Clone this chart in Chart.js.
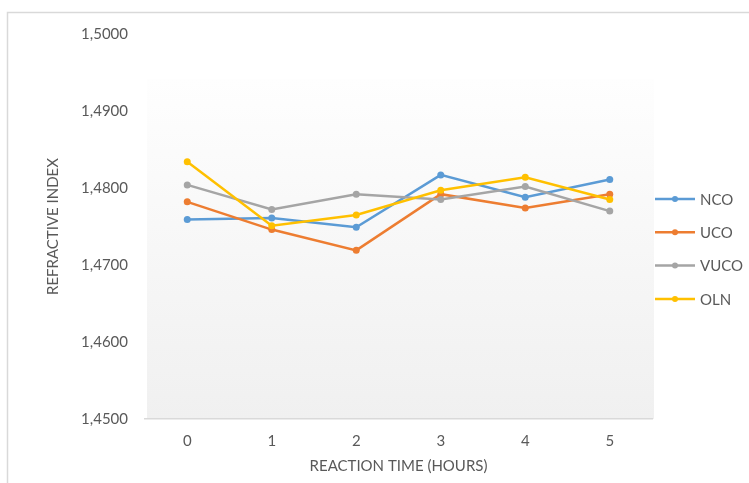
<!DOCTYPE html>
<html>
<head>
<meta charset="utf-8">
<script src="https://cdn.jsdelivr.net/npm/chart.js@4/dist/chart.umd.min.js"></script>
<style>
  html, body { margin: 0; padding: 0; background: #ffffff; }
  #wrap { position: relative; width: 749px; height: 483px; }
</style>
</head>
<body>
<div id="wrap"><canvas id="chart" width="749" height="483"></canvas></div>
<script>
// Reaction time (hours) on the x axis
const hours = ['0', '1', '2', '3', '4', '5'];

// Refractive index per oil sample
const nco  = [1.4759, 1.4761, 1.4749, 1.4817, 1.4788, 1.4811];
const uco  = [1.4782, 1.4746, 1.4719, 1.4792, 1.4774, 1.4792];
const vuco = [1.4804, 1.4772, 1.4792, 1.4785, 1.4802, 1.4770];
const oln  = [1.4834, 1.4751, 1.4765, 1.4797, 1.4814, 1.4785];

const seriesNames = ['NCO', 'UCO', 'VUCO', 'OLN'];
const seriesColors = ['#5B9BD5', '#ED7D31', '#A5A5A5', '#FFC000'];
const seriesValues = [nco, uco, vuco, oln];

const yMin = 1.45, yMax = 1.50, yStep = 0.01;

const FONT = 'Lato, "Open Sans", sans-serif';
const TEXT = '#595959';

// Card frame and the shaded plot panel
const framePlugin = {
  id: 'frame',
  beforeDraw(chart) {
    const ctx = chart.ctx;
    const a = chart.chartArea;
    ctx.save();
    ctx.strokeStyle = '#d9d9d9';
    ctx.lineWidth = 1.5;
    ctx.beginPath();
    ctx.moveTo(7.5, chart.height + 2);
    ctx.lineTo(7.5, 12.5);
    ctx.lineTo(chart.width + 2, 12.5);
    ctx.stroke();
    const top = a.top + 45;
    const g = ctx.createLinearGradient(0, top, 0, a.bottom);
    g.addColorStop(0, '#fefefe');
    g.addColorStop(1, '#f0f0f0');
    ctx.fillStyle = g;
    ctx.fillRect(a.left + 2, top, a.right - a.left, a.bottom - top);
    ctx.restore();
  }
};

// Legend on the right: line sample with a marker, then the series name
const sideLegend = {
  id: 'sideLegend',
  afterDraw(chart) {
    const ctx = chart.ctx;
    const x0 = chart.chartArea.right + 3;
    const y0 = 199;
    const gap = 33.3;
    ctx.save();
    ctx.font = '15px ' + FONT;
    ctx.textBaseline = 'middle';
    ctx.textAlign = 'left';
    chart.data.datasets.forEach((ds, i) => {
      const y = y0 + i * gap;
      ctx.strokeStyle = ds.borderColor;
      ctx.lineWidth = 2.5;
      ctx.beginPath();
      ctx.moveTo(x0, y);
      ctx.lineTo(x0 + 40, y);
      ctx.stroke();
      ctx.fillStyle = ds.borderColor;
      ctx.beginPath();
      ctx.arc(x0 + 20, y, 3, 0, Math.PI * 2);
      ctx.fill();
      ctx.fillStyle = TEXT;
      ctx.fillText(ds.label, x0 + 45, y + 1);
    });
    ctx.restore();
  }
};

new Chart(document.getElementById('chart'), {
  type: 'line',
  data: {
    labels: hours,
    datasets: seriesNames.map((name, i) => ({
      label: name,
      data: seriesValues[i],
      borderColor: seriesColors[i],
      backgroundColor: seriesColors[i],
      borderWidth: 2.5,
      pointRadius: 3.5,
      pointBorderWidth: 0,
      pointBackgroundColor: seriesColors[i],
      tension: 0,
      fill: false,
      order: seriesNames.length - i
    }))
  },
  options: {
    responsive: false,
    animation: false,
    devicePixelRatio: 1,
    layout: { padding: { top: 34, right: 97, bottom: 0, left: 0 } },
    plugins: {
      legend: { display: false },
      tooltip: { enabled: false }
    },
    scales: {
      x: {
        offset: true,
        grid: { display: false, drawTicks: false, offset: true },
        border: { display: true, color: '#d9d9d9', width: 1.5 },
        ticks: { color: TEXT, font: { family: FONT, size: 15 }, padding: 13 },
        title: {
          display: true,
          text: 'REACTION TIME (HOURS)',
          color: TEXT,
          font: { family: FONT, size: 15 },
          padding: { top: 0, bottom: 8 }
        },
        afterFit(scale) { scale.height = 64; }
      },
      y: {
        min: yMin,
        max: yMax,
        grid: { display: false, drawTicks: false },
        border: { display: false },
        ticks: {
          stepSize: yStep,
          color: TEXT,
          font: { family: FONT, size: 15 },
          padding: 17,
          callback: v => v.toFixed(4).replace('.', ',')
        },
        title: {
          display: true,
          text: 'REFRACTIVE INDEX',
          color: TEXT,
          font: { family: FONT, size: 15 },
          padding: { top: 44, bottom: 0 }
        },
        afterFit(scale) { scale.width = 145; }
      }
    }
  },
  plugins: [framePlugin, sideLegend]
});
</script>
</body>
</html>
